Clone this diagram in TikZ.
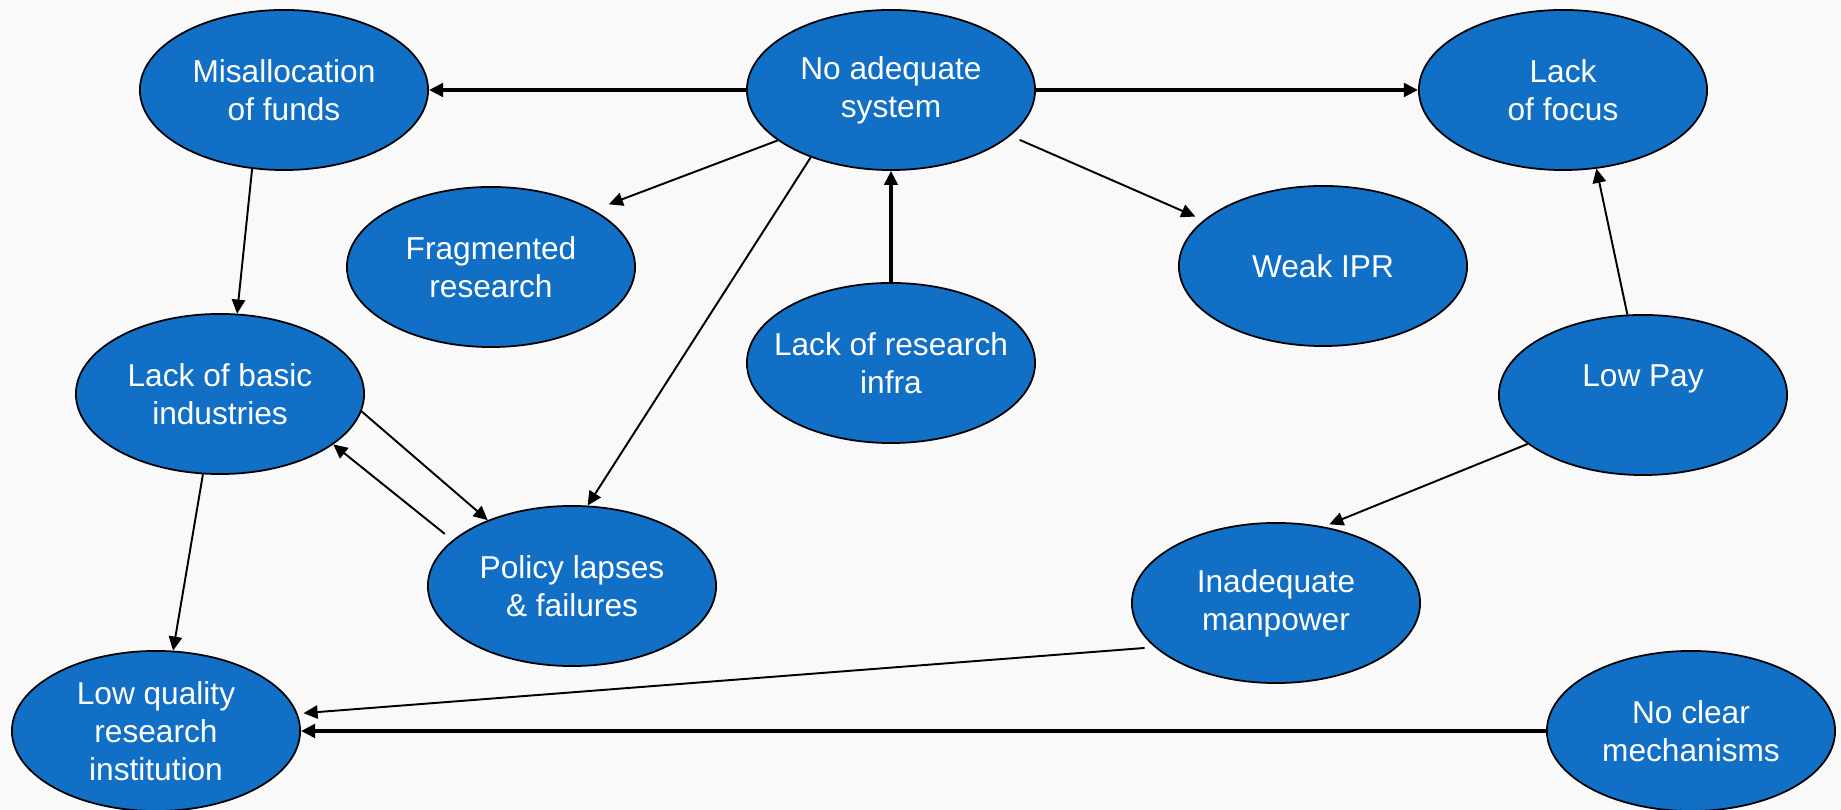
\documentclass[tikz,border=0pt]{standalone}
\usepackage{fontspec}
\setmainfont{Liberation Sans}
\usetikzlibrary{arrows.meta,shapes.geometric}
\definecolor{bubblefill}{RGB}{17,111,198}
\definecolor{paper}{RGB}{249,249,249}
\tikzset{
  bubble/.style={ellipse, draw=black, line width=0.5pt, fill=bubblefill,
                 minimum width=2.88cm, minimum height=1.6cm,
                 inner xsep=-12pt, inner ysep=0pt,
                 align=center, text=white, font=\fontsize{9}{10.8}\selectfont},
  arr/.style={-{Triangle[length=4pt,width=3.8pt]}, line width=0.55pt, draw=black},
  thickarr/.style={arr, line width=1pt},
}
\begin{document}
\begin{tikzpicture}[x=0.01cm, y=-0.01cm]
  \useasboundingbox[fill=paper] (0,0) rectangle (1841,810);
  % problem bubbles
  \node[bubble] (funds)    at (284,90)   {Misallocation\\of funds};
  \node[bubble] (system)   at (891,90)   {No adequate\\system};
  \node[bubble] (focus)    at (1563,90)  {Lack\\of focus};
  \node[bubble] (frag)     at (491,267)  {Fragmented\\research};
  \node[bubble] (ipr)      at (1323,266) {Weak IPR};
  \node[bubble] (infra)    at (891,363)  {Lack of research\\infra};
  \node[bubble] (basic)    at (220,394)  {Lack of basic\\industries};
  \node[bubble] (pay)      at (1643,395) {Low Pay\\\mbox{}};
  \node[bubble] (policy)   at (572,586)  {Policy lapses\\\& failures};
  \node[bubble] (manpower) at (1276,603) {Inadequate\\manpower};
  \node[bubble] (quality)  at (156,731)  {Low quality\\research\\institution};
  \node[bubble] (mech)     at (1691,731) {No clear\\mechanisms};
  % main links
  \draw[thickarr] (system) -- (funds);
  \draw[thickarr] (system) -- (focus);
  \draw[thickarr] (infra) -- (system);
  \draw[thickarr] (mech) -- (quality);
  % other links
  \draw[arr, shorten >=1.6mm] (system.204) -- (frag.29.5);
  \draw[arr] (system.220) -- (policy.79);
  \draw[arr, shorten <=1mm, shorten >=0.9mm] (system.339.6) -- (ipr.159.4);
  \draw[arr] (funds.248.7) -- (basic.78);
  \draw[arr] (basic.258) -- (quality.78.4);
  \draw[arr] (basic.353) -- (policy.142);
  \draw[arr, shorten <=1mm] (policy.159.6) -- (basic.336);
  \draw[arr] (pay.101) -- (focus.293.4);
  \draw[arr, shorten >=0.6mm] (pay.203.3) -- (manpower.58.8);
  \draw[arr, shorten <=1mm, shorten >=0.6mm] (manpower.200.4) -- (quality.7);
\end{tikzpicture}
\end{document}
